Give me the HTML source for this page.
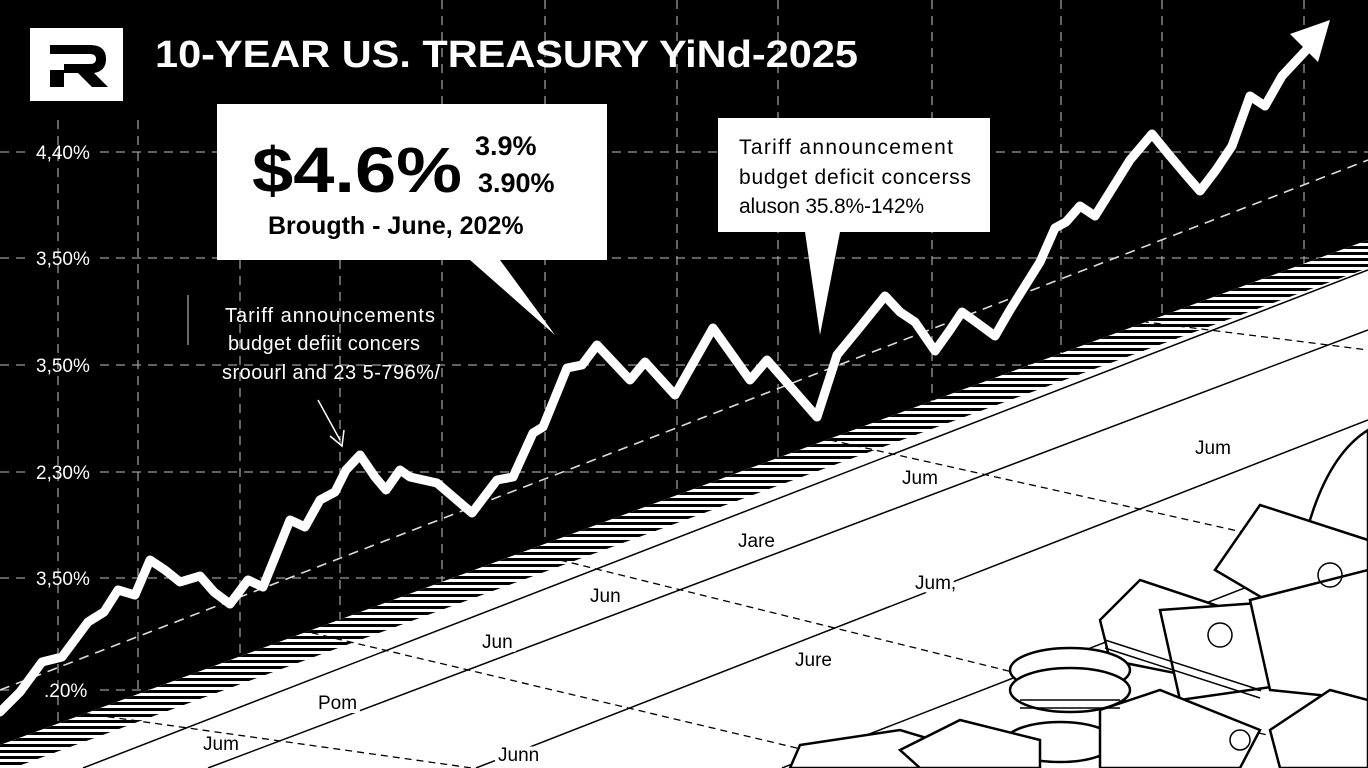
<!DOCTYPE html>
<html><head><meta charset="utf-8"><style>
html,body{margin:0;padding:0;background:#000;width:1368px;height:768px;overflow:hidden;}
svg{display:block}
text{font-family:"Liberation Sans",sans-serif;}
</style></head><body>
<svg width="1368" height="768" viewBox="0 0 1368 768" xmlns="http://www.w3.org/2000/svg">
<defs>
<pattern id="hatch" width="8" height="6" patternUnits="userSpaceOnUse">
<rect width="8" height="6" fill="#fff"/><rect width="8" height="3" fill="#000"/>
</pattern>
<clipPath id="plane"><polygon points="0,745 1368,240 1368,768 0,768"/></clipPath>
</defs>
<rect width="1368" height="768" fill="#000"/>
<!-- grid -->
<g stroke="#9a9a9a" stroke-width="1.3" stroke-dasharray="9,7" fill="none">
<line x1="0" y1="152" x2="30" y2="152"/><line x1="100" y1="152" x2="1368" y2="152"/>
<line x1="0" y1="258" x2="30" y2="258"/><line x1="100" y1="258" x2="1368" y2="258"/>
<line x1="0" y1="365" x2="30" y2="365"/><line x1="100" y1="365" x2="1368" y2="365"/>
<line x1="0" y1="472" x2="30" y2="472"/><line x1="100" y1="472" x2="1368" y2="472"/>
<line x1="0" y1="578" x2="30" y2="578"/><line x1="100" y1="578" x2="1368" y2="578"/>
<line x1="0" y1="690" x2="30" y2="690"/><line x1="100" y1="690" x2="1368" y2="690"/>
<line x1="58" y1="120" x2="58" y2="768"/>
<line x1="138" y1="120" x2="138" y2="768"/>
<line x1="240" y1="260" x2="240" y2="768"/>
<line x1="340" y1="260" x2="340" y2="768"/>
<line x1="442" y1="0" x2="442" y2="768"/>
<line x1="545" y1="0" x2="545" y2="768"/>
<line x1="677" y1="0" x2="677" y2="768"/>
<line x1="778" y1="0" x2="778" y2="768"/>
<line x1="932" y1="0" x2="932" y2="768"/>
<line x1="1061" y1="0" x2="1061" y2="768"/>
<line x1="1162" y1="0" x2="1162" y2="768"/>
<line x1="1304" y1="0" x2="1304" y2="768"/>
</g>
<g fill="#fff" font-size="19">
<text x="36" y="159">4,40%</text><text x="36" y="265">3,50%</text><text x="36" y="372">3,50%</text>
<text x="36" y="479">2,30%</text><text x="36" y="585">3,50%</text><text x="44" y="697">.20%</text>
</g>
<!-- trend dashed -->
<line x1="0" y1="690" x2="1368" y2="160" stroke="#ddd" stroke-width="1.6" stroke-dasharray="10,7"/>
<!-- plane -->
<polygon points="0,745 1368,240 1368,768 0,768" fill="#fff"/>
<g clip-path="url(#plane)">
<polygon points="0,745 1368,240 1368,268 13,768 0,768" fill="url(#hatch)"/>
<g stroke="#000" stroke-width="1.5" fill="none">
<line x1="83" y1="768" x2="1368" y2="270"/>
<line x1="208" y1="768" x2="1368" y2="330"/>
<line x1="476" y1="768" x2="1368" y2="420"/>
<line x1="782" y1="768" x2="1368" y2="540"/>
</g>
<g stroke="#000" stroke-width="1.3" fill="none" stroke-dasharray="7,5">
<line x1="60" y1="710" x2="472" y2="768"/>
<line x1="300" y1="630" x2="881" y2="768"/>
<line x1="560" y1="560" x2="1368" y2="760"/>
<line x1="830" y1="440" x2="1368" y2="560"/>
<line x1="1130" y1="320" x2="1368" y2="350"/>
</g>
<g font-size="19" fill="#000">
<text x="1195" y="454" style="paint-order:stroke" stroke="#fff" stroke-width="8">Jum</text>
<text x="902" y="484" style="paint-order:stroke" stroke="#fff" stroke-width="8">Jum</text>
<text x="738" y="547" style="paint-order:stroke" stroke="#fff" stroke-width="8">Jare</text>
<text x="915" y="589" style="paint-order:stroke" stroke="#fff" stroke-width="8">Jum,</text>
<text x="590" y="602" style="paint-order:stroke" stroke="#fff" stroke-width="8">Jun</text>
<text x="482" y="648" style="paint-order:stroke" stroke="#fff" stroke-width="8">Jun</text>
<text x="795" y="666" style="paint-order:stroke" stroke="#fff" stroke-width="8">Jure</text>
<text x="318" y="709" style="paint-order:stroke" stroke="#fff" stroke-width="8">Pom</text>
<text x="203" y="750" style="paint-order:stroke" stroke="#fff" stroke-width="8">Jum</text>
<text x="498" y="761" style="paint-order:stroke" stroke="#fff" stroke-width="8">Junn</text>
</g>
</g>
<!-- money pile -->
<g stroke="#000" stroke-width="2.5" fill="#fff">
<path d="M1300,560 q20,-100 68,-130 v200 z"/>
<polygon points="1215,570 1260,505 1368,540 1368,640 1300,620"/>
<polygon points="1100,620 1140,580 1290,630 1260,690 1110,660"/>
<polygon points="1160,610 1300,600 1320,680 1180,700"/>
<polygon points="1250,600 1368,570 1368,700 1270,690"/>
<ellipse cx="1070" cy="670" rx="60" ry="22"/>
<ellipse cx="1070" cy="690" rx="60" ry="22"/>
<ellipse cx="1060" cy="742" rx="55" ry="20"/>
<polygon points="1100,710 1160,690 1260,730 1240,768 1100,768"/>
<polygon points="1270,730 1330,690 1368,700 1368,768 1280,768"/>
<polygon points="790,768 800,745 900,730 1000,760 1000,768"/>
<polygon points="900,750 960,720 1040,740 1040,768 920,768"/>
</g>
<g stroke="#000" stroke-width="1.5" fill="none">
<line x1="1105" y1="640" x2="1260" y2="690"/><line x1="1105" y1="648" x2="1260" y2="698"/>
<line x1="1020" y1="700" x2="1120" y2="700"/><line x1="1020" y1="708" x2="1120" y2="708"/>
<circle cx="1220" cy="635" r="12"/><circle cx="1330" cy="575" r="12"/><circle cx="1240" cy="740" r="10"/>
</g>
<!-- main series -->
<polyline points="0,712 20,692 42,662 62,657 88,622 104,612 118,590 135,595 150,560 165,570 180,582 200,576 214,592 230,604 248,580 263,587 290,520 305,527 320,500 335,492 346,470 360,455 375,477 386,490 400,470 410,477 437,483 472,513 497,480 513,477 533,433 543,427 567,368 582,365 597,345 630,380 645,362 675,395 713,328 750,380 767,360 817,417 837,355 860,327 885,296 900,312 915,322 935,351 950,330 962,312 976,322 995,336 1010,310 1025,286 1040,262 1055,228 1066,222 1080,206 1095,216 1110,192 1130,160 1152,134 1170,156 1186,175 1200,191 1216,170 1232,146 1250,96 1265,106 1282,76 1310,46" fill="none" stroke="#fff" stroke-width="9" stroke-linejoin="round" stroke-linecap="round"/>
<polygon points="1330,20 1290,34 1318,62" fill="#fff"/>
<!-- logo -->
<rect x="30" y="28" width="93" height="73" fill="#fff"/>
<path d="M50,45 h40 q16,0 16,14 q0,12 -12,14 l14,14 h-16 l-14,-14 h-14 v-9 h26 q6,0 6,-5 q0,-5 -6,-5 h-40 z M50,70 h14 v17 h-14 z" fill="#000"/>
<text x="155" y="67" fill="#fff" font-size="38" font-weight="bold" textLength="703" lengthAdjust="spacingAndGlyphs">10-YEAR US. TREASURY YiNd-2025</text>
<!-- callout 1 -->
<path d="M217,104 H607 V260 H500 L555,335 L470,260 H217 Z" fill="#fff"/>
<text x="252" y="192" font-size="64" font-weight="bold" fill="#000" textLength="210" lengthAdjust="spacingAndGlyphs">$4.6%</text>
<text x="475" y="155" font-size="27" font-weight="bold" fill="#000">3.9%</text>
<text x="478" y="192" font-size="27" font-weight="bold" fill="#000">3.90%</text>
<text x="268" y="234" font-size="25" font-weight="bold" fill="#000">Brougth - June, 202%</text>
<!-- callout 2 -->
<path d="M718,118 H990 V232 H840 L820,335 L805,232 H718 Z" fill="#fff"/>
<text x="739" y="154" font-size="21" fill="#000" textLength="214">Tariff announcement</text>
<text x="739" y="184" font-size="21" fill="#000" textLength="232">budget deficit concerss</text>
<text x="739" y="213" font-size="21" fill="#000" textLength="185">aluson 35.8%-142%</text>
<!-- annotation 3 -->
<line x1="188" y1="295" x2="188" y2="345" stroke="#888" stroke-width="1.5"/>
<g fill="#fff" font-size="20">
<text x="225" y="322" textLength="210">Tariff announcements</text>
<text x="228" y="350" textLength="192">budget defiit concers</text>
<text x="222" y="379" textLength="218">sroourl and 23 5-796%/</text>
</g>
<line x1="318" y1="400" x2="340" y2="440" stroke="#fff" stroke-width="1.5"/>
<polyline points="330,436 342,446 344,430" fill="none" stroke="#fff" stroke-width="1.5"/>
</svg>
</body></html>
